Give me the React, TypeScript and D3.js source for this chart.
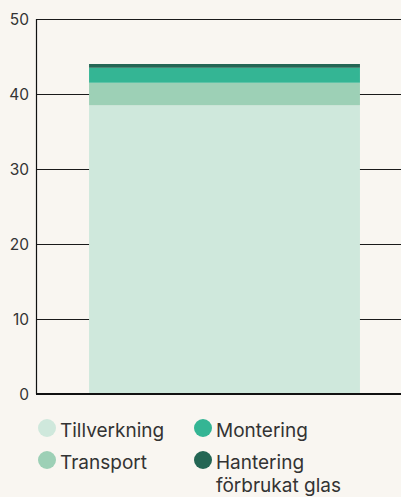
import * as d3 from "d3";

const categories = ["Glas"];
const seriesNames = ["Tillverkning", "Transport", "Montering", "Hantering förbrukat glas"];
const seriesValues = [38.5, 3.0, 2.0, 0.5];
const seriesColors = ["#cfe8dc", "#9dd0b6", "#34b594", "#246654"];
const yTicks = [0, 10, 20, 30, 40, 50];

const App = () => {
    const width = 401;
    const height = 497;
    const margin = { left: 36.5, right: 0, top: 19, bottom: 103 };

    // band range runs a little past the right edge so the bar sits where it does in the original
    const xScale = d3
        .scaleBand()
        .domain(categories)
        .range([margin.left, 412.5])
        .paddingInner(0)
        .paddingOuter(0.194);
    const yScale = d3
        .scaleLinear()
        .domain([0, 50])
        .range([height - margin.bottom, margin.top]);

    // one row per category, one column per series
    const rows = categories.map((c) => {
        const r: any = { cat: c };
        seriesNames.forEach((s, i) => (r[s] = seriesValues[i]));
        return r;
    });
    const stacked = d3.stack().keys(seriesNames)(rows);

    const font = "Inter, 'DejaVu Sans', sans-serif";

    const legend = [
        { x: 47, y: 428, lines: [seriesNames[0]] },
        { x: 47, y: 460, lines: [seriesNames[1]] },
        { x: 203, y: 428, lines: [seriesNames[2]] },
        { x: 203, y: 460, lines: ["Hantering", "förbrukat glas"] },
    ];

    return (
        <div style={{ position: "fixed", left: 0, top: 0 }}>
            <svg width={width} height={height} style={{ display: "block", background: "#f9f6f1" }}>
                {yTicks.map((t) => (
                    <g key={t}>
                        {t > 0 && (
                            <line
                                x1={margin.left}
                                x2={width}
                                y1={yScale(t) + 0.5}
                                y2={yScale(t) + 0.5}
                                stroke="#1a1a1a"
                                strokeWidth={1}
                            />
                        )}
                        <text
                            x={29}
                            y={yScale(t)}
                            dy="0.36em"
                            textAnchor="end"
                            fontFamily={font}
                            fontSize={15.5}
                            fill="#333"
                        >
                            {t}
                        </text>
                    </g>
                ))}
                {stacked.map((layer, i) =>
                    layer.map((d, j) => (
                        <rect
                            key={seriesNames[i] + j}
                            x={xScale(categories[j])}
                            width={xScale.bandwidth()}
                            y={yScale(d[1])}
                            height={yScale(d[0]) - yScale(d[1])}
                            fill={seriesColors[i]}
                        />
                    ))
                )}
                <line
                    x1={margin.left}
                    x2={margin.left}
                    y1={yScale(50)}
                    y2={yScale(0)}
                    stroke="#111"
                    strokeWidth={1.2}
                />
                <line
                    x1={margin.left - 0.5}
                    x2={width}
                    y1={yScale(0)}
                    y2={yScale(0)}
                    stroke="#111"
                    strokeWidth={2.2}
                />
                {legend.map((l, i) => (
                    <g key={i}>
                        <circle cx={l.x} cy={l.y} r={9} fill={seriesColors[i]} />
                        {l.lines.map((ln, k) => (
                            <text
                                key={k}
                                x={l.x + 13}
                                y={l.y + 9 + k * 23}
                                fontFamily={font}
                                fontSize={19}
                                fill="#333"
                            >
                                {ln}
                            </text>
                        ))}
                    </g>
                ))}
            </svg>
        </div>
    );
};
export default App;
